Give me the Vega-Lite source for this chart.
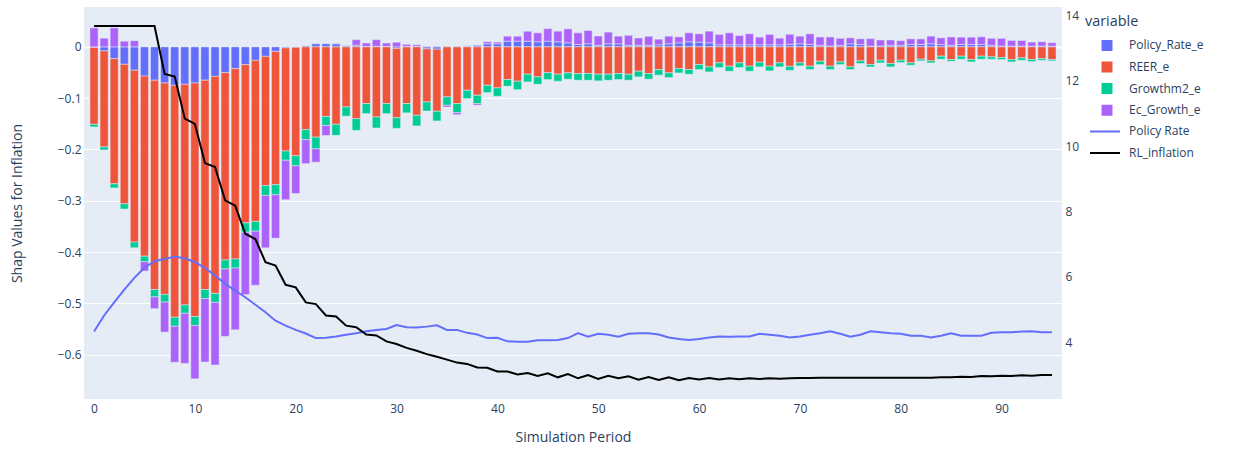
{
  "$schema": "https://vega.github.io/schema/vega-lite/v6.json",
  "width": 978,
  "height": 392,
  "autosize": {"type": "none"},
  "padding": {"left": 84, "top": 7, "right": 173, "bottom": 52},
  "background": "white",
  "config": {
    "view": {"fill": "#E5ECF6", "stroke": null},
    "font": "Open Sans",
    "axis": {"labelFont": "Open Sans", "titleFont": "Open Sans", "labelColor": "#2a3f5f", "titleColor": "#2a3f5f", "labelFontSize": 12, "titleFontSize": 14, "titleFontWeight": "normal", "domain": false, "ticks": false, "gridColor": "#ffffff", "gridWidth": 1, "gridOpacity": 1},
    "legend": {"labelFont": "Open Sans", "labelFontSize": 12, "labelColor": "#2a3f5f", "titleFont": "Open Sans", "titleFontSize": 14.4, "titleFontWeight": "normal", "titleColor": "#2a3f5f"}
  },
  "data": {"values": [
    {"period":0,"Policy_Rate_e":-0.001,"REER_e":-0.150,"Growthm2_e":-0.005,"Ec_Growth_e":0.037,"Policy Rate":4.33,"RL_inflation":13.67},
    {"period":1,"Policy_Rate_e":-0.008,"REER_e":-0.187,"Growthm2_e":-0.006,"Ec_Growth_e":0.017,"Policy Rate":4.82,"RL_inflation":13.67},
    {"period":2,"Policy_Rate_e":-0.023,"REER_e":-0.244,"Growthm2_e":-0.008,"Ec_Growth_e":0.037,"Policy Rate":5.22,"RL_inflation":13.67},
    {"period":3,"Policy_Rate_e":-0.034,"REER_e":-0.272,"Growthm2_e":-0.010,"Ec_Growth_e":0.011,"Policy Rate":5.61,"RL_inflation":13.67},
    {"period":4,"Policy_Rate_e":-0.0455,"REER_e":-0.335,"Growthm2_e":-0.011,"Ec_Growth_e":0.012,"Policy Rate":5.97,"RL_inflation":13.67},
    {"period":5,"Policy_Rate_e":-0.057,"REER_e":-0.351,"Growthm2_e":-0.011,"Ec_Growth_e":-0.018,"Policy Rate":6.28,"RL_inflation":13.67},
    {"period":6,"Policy_Rate_e":-0.065,"REER_e":-0.408,"Growthm2_e":-0.0144,"Ec_Growth_e":-0.0228,"Policy Rate":6.48,"RL_inflation":13.67},
    {"period":7,"Policy_Rate_e":-0.0705,"REER_e":-0.412,"Growthm2_e":-0.015,"Ec_Growth_e":-0.0585,"Policy Rate":6.55,"RL_inflation":12.21},
    {"period":8,"Policy_Rate_e":-0.075,"REER_e":-0.452,"Growthm2_e":-0.0176,"Ec_Growth_e":-0.0703,"Policy Rate":6.62,"RL_inflation":12.13},
    {"period":9,"Policy_Rate_e":-0.073,"REER_e":-0.430,"Growthm2_e":-0.0164,"Ec_Growth_e":-0.0976,"Policy Rate":6.57,"RL_inflation":10.84},
    {"period":10,"Policy_Rate_e":-0.0705,"REER_e":-0.455,"Growthm2_e":-0.0176,"Ec_Growth_e":-0.104,"Policy Rate":6.45,"RL_inflation":10.68},
    {"period":11,"Policy_Rate_e":-0.065,"REER_e":-0.408,"Growthm2_e":-0.0176,"Ec_Growth_e":-0.1236,"Policy Rate":6.28,"RL_inflation":9.48},
    {"period":12,"Policy_Rate_e":-0.0575,"REER_e":-0.423,"Growthm2_e":-0.0176,"Ec_Growth_e":-0.122,"Policy Rate":6.04,"RL_inflation":9.36},
    {"period":13,"Policy_Rate_e":-0.0503,"REER_e":-0.365,"Growthm2_e":-0.0176,"Ec_Growth_e":-0.1315,"Policy Rate":5.79,"RL_inflation":8.34},
    {"period":14,"Policy_Rate_e":-0.0425,"REER_e":-0.371,"Growthm2_e":-0.0176,"Ec_Growth_e":-0.1204,"Policy Rate":5.58,"RL_inflation":8.18},
    {"period":15,"Policy_Rate_e":-0.0347,"REER_e":-0.3083,"Growthm2_e":-0.0183,"Ec_Growth_e":-0.1216,"Policy Rate":5.38,"RL_inflation":7.32},
    {"period":16,"Policy_Rate_e":-0.0263,"REER_e":-0.314,"Growthm2_e":-0.019,"Ec_Growth_e":-0.1054,"Policy Rate":5.15,"RL_inflation":7.16},
    {"period":17,"Policy_Rate_e":-0.0185,"REER_e":-0.2517,"Growthm2_e":-0.0195,"Ec_Growth_e":-0.102,"Policy Rate":4.92,"RL_inflation":6.45},
    {"period":18,"Policy_Rate_e":-0.0088,"REER_e":-0.260,"Growthm2_e":-0.0195,"Ec_Growth_e":-0.0846,"Policy Rate":4.66,"RL_inflation":6.35},
    {"period":19,"Policy_Rate_e":-0.002,"REER_e":-0.201,"Growthm2_e":-0.018,"Ec_Growth_e":-0.077,"Policy Rate":4.51,"RL_inflation":5.76},
    {"period":20,"Policy_Rate_e":-0.001,"REER_e":-0.2113,"Growthm2_e":-0.0195,"Ec_Growth_e":-0.054,"Policy Rate":4.38,"RL_inflation":5.68},
    {"period":21,"Policy_Rate_e":0.002,"REER_e":-0.1613,"Growthm2_e":-0.0195,"Ec_Growth_e":-0.0468,"Policy Rate":4.27,"RL_inflation":5.22},
    {"period":22,"Policy_Rate_e":0.006,"REER_e":-0.176,"Growthm2_e":-0.0228,"Ec_Growth_e":-0.026,"Policy Rate":4.13,"RL_inflation":5.17},
    {"period":23,"Policy_Rate_e":0.006,"REER_e":-0.1356,"Growthm2_e":-0.0176,"Ec_Growth_e":-0.0195,"Policy Rate":4.14,"RL_inflation":4.82},
    {"period":24,"Policy_Rate_e":0.006,"REER_e":-0.151,"Growthm2_e":-0.0215,"Ec_Growth_e":0.001,"Policy Rate":4.18,"RL_inflation":4.79},
    {"period":25,"Policy_Rate_e":0.002,"REER_e":-0.117,"Growthm2_e":-0.018,"Ec_Growth_e":0.001,"Policy Rate":4.23,"RL_inflation":4.51},
    {"period":26,"Policy_Rate_e":0.003,"REER_e":-0.140,"Growthm2_e":-0.0228,"Ec_Growth_e":0.011,"Policy Rate":4.28,"RL_inflation":4.46},
    {"period":27,"Policy_Rate_e":0.001,"REER_e":-0.1106,"Growthm2_e":-0.0195,"Ec_Growth_e":0.0065,"Policy Rate":4.34,"RL_inflation":4.24},
    {"period":28,"Policy_Rate_e":0.001,"REER_e":-0.1366,"Growthm2_e":-0.0215,"Ec_Growth_e":0.013,"Policy Rate":4.38,"RL_inflation":4.21},
    {"period":29,"Policy_Rate_e":0.001,"REER_e":-0.1106,"Growthm2_e":-0.0195,"Ec_Growth_e":0.0065,"Policy Rate":4.41,"RL_inflation":4.03},
    {"period":30,"Policy_Rate_e":-0.003,"REER_e":-0.135,"Growthm2_e":-0.0208,"Ec_Growth_e":0.009,"Policy Rate":4.53,"RL_inflation":3.95},
    {"period":31,"Policy_Rate_e":0.001,"REER_e":-0.1106,"Growthm2_e":-0.018,"Ec_Growth_e":0.004,"Policy Rate":4.46,"RL_inflation":3.83},
    {"period":32,"Policy_Rate_e":0.001,"REER_e":-0.1333,"Growthm2_e":-0.0208,"Ec_Growth_e":0.003,"Policy Rate":4.45,"RL_inflation":3.74},
    {"period":33,"Policy_Rate_e":-0.004,"REER_e":-0.1034,"Growthm2_e":-0.0176,"Ec_Growth_e":0.001,"Policy Rate":4.48,"RL_inflation":3.64},
    {"period":34,"Policy_Rate_e":-0.0045,"REER_e":-0.121,"Growthm2_e":-0.0189,"Ec_Growth_e":0.001,"Policy Rate":4.52,"RL_inflation":3.56},
    {"period":35,"Policy_Rate_e":0.001,"REER_e":-0.0976,"Growthm2_e":-0.0163,"Ec_Growth_e":-0.0033,"Policy Rate":4.38,"RL_inflation":3.47},
    {"period":36,"Policy_Rate_e":0.001,"REER_e":-0.1106,"Growthm2_e":-0.0176,"Ec_Growth_e":-0.004,"Policy Rate":4.38,"RL_inflation":3.38},
    {"period":37,"Policy_Rate_e":0.001,"REER_e":-0.0846,"Growthm2_e":-0.0163,"Ec_Growth_e":0.001,"Policy Rate":4.29,"RL_inflation":3.34},
    {"period":38,"Policy_Rate_e":0.003,"REER_e":-0.0943,"Growthm2_e":-0.0163,"Ec_Growth_e":-0.003,"Policy Rate":4.24,"RL_inflation":3.23},
    {"period":39,"Policy_Rate_e":0.006,"REER_e":-0.0748,"Growthm2_e":-0.0143,"Ec_Growth_e":0.004,"Policy Rate":4.13,"RL_inflation":3.22},
    {"period":40,"Policy_Rate_e":0.006,"REER_e":-0.080,"Growthm2_e":-0.0163,"Ec_Growth_e":0.0033,"Policy Rate":4.14,"RL_inflation":3.11},
    {"period":41,"Policy_Rate_e":0.011,"REER_e":-0.0637,"Growthm2_e":-0.013,"Ec_Growth_e":0.0098,"Policy Rate":4.03,"RL_inflation":3.11},
    {"period":42,"Policy_Rate_e":0.011,"REER_e":-0.067,"Growthm2_e":-0.0163,"Ec_Growth_e":0.0098,"Policy Rate":4.02,"RL_inflation":3.02},
    {"period":43,"Policy_Rate_e":0.011,"REER_e":-0.0533,"Growthm2_e":-0.015,"Ec_Growth_e":0.0195,"Policy Rate":4.02,"RL_inflation":3.06},
    {"period":44,"Policy_Rate_e":0.0098,"REER_e":-0.0585,"Growthm2_e":-0.0143,"Ec_Growth_e":0.0176,"Policy Rate":4.06,"RL_inflation":2.97},
    {"period":45,"Policy_Rate_e":0.011,"REER_e":-0.0503,"Growthm2_e":-0.0135,"Ec_Growth_e":0.0245,"Policy Rate":4.06,"RL_inflation":3.05},
    {"period":46,"Policy_Rate_e":0.0098,"REER_e":-0.0533,"Growthm2_e":-0.0137,"Ec_Growth_e":0.0208,"Policy Rate":4.07,"RL_inflation":2.93},
    {"period":47,"Policy_Rate_e":0.0078,"REER_e":-0.0507,"Growthm2_e":-0.0124,"Ec_Growth_e":0.0273,"Policy Rate":4.13,"RL_inflation":3.03},
    {"period":48,"Policy_Rate_e":0.0046,"REER_e":-0.052,"Growthm2_e":-0.013,"Ec_Growth_e":0.0228,"Policy Rate":4.28,"RL_inflation":2.90},
    {"period":49,"Policy_Rate_e":0.0059,"REER_e":-0.052,"Growthm2_e":-0.013,"Ec_Growth_e":0.026,"Policy Rate":4.17,"RL_inflation":3.00},
    {"period":50,"Policy_Rate_e":0.003,"REER_e":-0.0533,"Growthm2_e":-0.013,"Ec_Growth_e":0.0182,"Policy Rate":4.26,"RL_inflation":2.88},
    {"period":51,"Policy_Rate_e":0.0059,"REER_e":-0.0533,"Growthm2_e":-0.0117,"Ec_Growth_e":0.0228,"Policy Rate":4.23,"RL_inflation":2.98},
    {"period":52,"Policy_Rate_e":0.0059,"REER_e":-0.052,"Growthm2_e":-0.0117,"Ec_Growth_e":0.015,"Policy Rate":4.17,"RL_inflation":2.90},
    {"period":53,"Policy_Rate_e":0.003,"REER_e":-0.0533,"Growthm2_e":-0.0117,"Ec_Growth_e":0.0195,"Policy Rate":4.26,"RL_inflation":2.96},
    {"period":54,"Policy_Rate_e":0.003,"REER_e":-0.0475,"Growthm2_e":-0.011,"Ec_Growth_e":0.0143,"Policy Rate":4.28,"RL_inflation":2.86},
    {"period":55,"Policy_Rate_e":0.003,"REER_e":-0.052,"Growthm2_e":-0.011,"Ec_Growth_e":0.0176,"Policy Rate":4.28,"RL_inflation":2.94},
    {"period":56,"Policy_Rate_e":0.004,"REER_e":-0.0442,"Growthm2_e":-0.011,"Ec_Growth_e":0.011,"Policy Rate":4.24,"RL_inflation":2.85},
    {"period":57,"Policy_Rate_e":0.0059,"REER_e":-0.0507,"Growthm2_e":-0.0091,"Ec_Growth_e":0.015,"Policy Rate":4.15,"RL_inflation":2.93},
    {"period":58,"Policy_Rate_e":0.0078,"REER_e":-0.0423,"Growthm2_e":-0.0085,"Ec_Growth_e":0.0117,"Policy Rate":4.10,"RL_inflation":2.84},
    {"period":59,"Policy_Rate_e":0.0098,"REER_e":-0.0442,"Growthm2_e":-0.0091,"Ec_Growth_e":0.0176,"Policy Rate":4.07,"RL_inflation":2.91},
    {"period":60,"Policy_Rate_e":0.0091,"REER_e":-0.0345,"Growthm2_e":-0.0098,"Ec_Growth_e":0.0163,"Policy Rate":4.10,"RL_inflation":2.86},
    {"period":61,"Policy_Rate_e":0.0078,"REER_e":-0.039,"Growthm2_e":-0.0098,"Ec_Growth_e":0.0228,"Policy Rate":4.15,"RL_inflation":2.91},
    {"period":62,"Policy_Rate_e":0.004,"REER_e":-0.0312,"Growthm2_e":-0.0091,"Ec_Growth_e":0.0202,"Policy Rate":4.18,"RL_inflation":2.86},
    {"period":63,"Policy_Rate_e":0.004,"REER_e":-0.0377,"Growthm2_e":-0.0098,"Ec_Growth_e":0.0234,"Policy Rate":4.17,"RL_inflation":2.90},
    {"period":64,"Policy_Rate_e":0.004,"REER_e":-0.0312,"Growthm2_e":-0.0091,"Ec_Growth_e":0.0182,"Policy Rate":4.18,"RL_inflation":2.87},
    {"period":65,"Policy_Rate_e":0.004,"REER_e":-0.0377,"Growthm2_e":-0.0098,"Ec_Growth_e":0.0215,"Policy Rate":4.18,"RL_inflation":2.90},
    {"period":66,"Policy_Rate_e":0.004,"REER_e":-0.0299,"Growthm2_e":-0.0091,"Ec_Growth_e":0.015,"Policy Rate":4.26,"RL_inflation":2.88},
    {"period":67,"Policy_Rate_e":0.004,"REER_e":-0.0377,"Growthm2_e":-0.0091,"Ec_Growth_e":0.0202,"Policy Rate":4.23,"RL_inflation":2.90},
    {"period":68,"Policy_Rate_e":0.004,"REER_e":-0.0312,"Growthm2_e":-0.0078,"Ec_Growth_e":0.013,"Policy Rate":4.20,"RL_inflation":2.89},
    {"period":69,"Policy_Rate_e":0.005,"REER_e":-0.038,"Growthm2_e":-0.0078,"Ec_Growth_e":0.0195,"Policy Rate":4.15,"RL_inflation":2.90},
    {"period":70,"Policy_Rate_e":0.0059,"REER_e":-0.0312,"Growthm2_e":-0.0059,"Ec_Growth_e":0.015,"Policy Rate":4.18,"RL_inflation":2.91},
    {"period":71,"Policy_Rate_e":0.0046,"REER_e":-0.0377,"Growthm2_e":-0.0065,"Ec_Growth_e":0.0208,"Policy Rate":4.23,"RL_inflation":2.91},
    {"period":72,"Policy_Rate_e":0.003,"REER_e":-0.028,"Growthm2_e":-0.0065,"Ec_Growth_e":0.0163,"Policy Rate":4.28,"RL_inflation":2.92},
    {"period":73,"Policy_Rate_e":0.0017,"REER_e":-0.0377,"Growthm2_e":-0.0065,"Ec_Growth_e":0.0176,"Policy Rate":4.34,"RL_inflation":2.92},
    {"period":74,"Policy_Rate_e":0.003,"REER_e":-0.0293,"Growthm2_e":-0.0052,"Ec_Growth_e":0.0137,"Policy Rate":4.26,"RL_inflation":2.92},
    {"period":75,"Policy_Rate_e":0.0059,"REER_e":-0.039,"Growthm2_e":-0.0052,"Ec_Growth_e":0.0117,"Policy Rate":4.17,"RL_inflation":2.92},
    {"period":76,"Policy_Rate_e":0.0046,"REER_e":-0.0273,"Growthm2_e":-0.0052,"Ec_Growth_e":0.011,"Policy Rate":4.23,"RL_inflation":2.92},
    {"period":77,"Policy_Rate_e":0.0017,"REER_e":-0.0345,"Growthm2_e":-0.0046,"Ec_Growth_e":0.0143,"Policy Rate":4.34,"RL_inflation":2.92},
    {"period":78,"Policy_Rate_e":0.0017,"REER_e":-0.026,"Growthm2_e":-0.0052,"Ec_Growth_e":0.0117,"Policy Rate":4.31,"RL_inflation":2.92},
    {"period":79,"Policy_Rate_e":0.003,"REER_e":-0.0325,"Growthm2_e":-0.0065,"Ec_Growth_e":0.0104,"Policy Rate":4.28,"RL_inflation":2.92},
    {"period":80,"Policy_Rate_e":0.003,"REER_e":-0.026,"Growthm2_e":-0.0046,"Ec_Growth_e":0.0091,"Policy Rate":4.26,"RL_inflation":2.92},
    {"period":81,"Policy_Rate_e":0.0046,"REER_e":-0.0312,"Growthm2_e":-0.0046,"Ec_Growth_e":0.011,"Policy Rate":4.20,"RL_inflation":2.92},
    {"period":82,"Policy_Rate_e":0.0046,"REER_e":-0.024,"Growthm2_e":-0.0033,"Ec_Growth_e":0.011,"Policy Rate":4.20,"RL_inflation":2.92},
    {"period":83,"Policy_Rate_e":0.0059,"REER_e":-0.0273,"Growthm2_e":-0.004,"Ec_Growth_e":0.015,"Policy Rate":4.15,"RL_inflation":2.92},
    {"period":84,"Policy_Rate_e":0.0046,"REER_e":-0.0182,"Growthm2_e":-0.0059,"Ec_Growth_e":0.013,"Policy Rate":4.20,"RL_inflation":2.93},
    {"period":85,"Policy_Rate_e":0.003,"REER_e":-0.0247,"Growthm2_e":-0.0033,"Ec_Growth_e":0.0163,"Policy Rate":4.28,"RL_inflation":2.93},
    {"period":86,"Policy_Rate_e":0.0046,"REER_e":-0.0182,"Growthm2_e":-0.0059,"Ec_Growth_e":0.0143,"Policy Rate":4.20,"RL_inflation":2.95},
    {"period":87,"Policy_Rate_e":0.0046,"REER_e":-0.0247,"Growthm2_e":-0.0046,"Ec_Growth_e":0.0143,"Policy Rate":4.20,"RL_inflation":2.94},
    {"period":88,"Policy_Rate_e":0.0046,"REER_e":-0.0182,"Growthm2_e":-0.0059,"Ec_Growth_e":0.015,"Policy Rate":4.20,"RL_inflation":2.97},
    {"period":89,"Policy_Rate_e":0.003,"REER_e":-0.0195,"Growthm2_e":-0.0046,"Ec_Growth_e":0.0137,"Policy Rate":4.29,"RL_inflation":2.96},
    {"period":90,"Policy_Rate_e":0.0015,"REER_e":-0.0208,"Growthm2_e":-0.004,"Ec_Growth_e":0.015,"Policy Rate":4.31,"RL_inflation":2.98},
    {"period":91,"Policy_Rate_e":0.0015,"REER_e":-0.0247,"Growthm2_e":-0.0046,"Ec_Growth_e":0.011,"Policy Rate":4.31,"RL_inflation":2.97},
    {"period":92,"Policy_Rate_e":0.0015,"REER_e":-0.0215,"Growthm2_e":-0.0046,"Ec_Growth_e":0.011,"Policy Rate":4.33,"RL_inflation":2.99},
    {"period":93,"Policy_Rate_e":0.0015,"REER_e":-0.0247,"Growthm2_e":-0.004,"Ec_Growth_e":0.0078,"Policy Rate":4.34,"RL_inflation":2.98},
    {"period":94,"Policy_Rate_e":0.0015,"REER_e":-0.0228,"Growthm2_e":-0.0033,"Ec_Growth_e":0.0085,"Policy Rate":4.31,"RL_inflation":3.00},
    {"period":95,"Policy_Rate_e":0.0015,"REER_e":-0.0247,"Growthm2_e":-0.0026,"Ec_Growth_e":0.0065,"Policy Rate":4.31,"RL_inflation":3.00}
  ]},
  "transform": [
    {"fold": ["Policy_Rate_e", "REER_e", "Growthm2_e", "Ec_Growth_e", "Policy Rate", "RL_inflation"], "as": ["variable", "value"]}
  ],
  "encoding": {
    "x": {
      "field": "period", "type": "quantitative",
      "scale": {"domain": [-0.5, 95.5], "nice": false, "zero": false},
      "axis": {"values": [0, 10, 20, 30, 40, 50, 60, 70, 80, 90], "format": "d", "grid": false, "title": "Simulation Period", "labelPadding": 4, "titlePadding": 16}
    }
  },
  "layer": [
    {
      "transform": [
        {"filter": {"field": "variable", "oneOf": ["Policy_Rate_e", "REER_e", "Growthm2_e", "Ec_Growth_e"]}},
        {"calculate": "indexof(['Policy_Rate_e', 'REER_e', 'Growthm2_e', 'Ec_Growth_e'], datum.variable)", "as": "stackOrder"}
      ],
      "mark": {"type": "bar", "size": 8.15, "stroke": "#E5ECF6", "strokeWidth": 0.5},
      "encoding": {
        "y": {
          "field": "value", "type": "quantitative", "stack": "zero",
          "scale": {"domain": [-0.6864, 0.0777], "nice": false, "zero": false},
          "axis": {"orient": "left", "values": [-0.6, -0.5, -0.4, -0.3, -0.2, -0.1, 0], "format": ".1~f", "title": "Shap Values for Inflation", "labelPadding": 3, "titlePadding": 33,
                   "gridWidth": {"condition": {"test": "datum.value === 0", "value": 2}, "value": 1}}
        },
        "color": {
          "field": "variable", "type": "nominal",
          "scale": {"domain": ["Policy_Rate_e", "REER_e", "Growthm2_e", "Ec_Growth_e"],
                    "range": ["#636efa", "#EF553B", "#00cc96", "#ab63fa"]},
          "legend": {
            "orient": "none", "legendX": 1001, "legendY": 8,
            "title": "variable", "titlePadding": 9,
            "labelOffset": 16,
            "symbolType": "square", "symbolSize": 120, "symbolOffset": 16, "symbolStrokeWidth": 0,
            "clipHeight": 14, "rowPadding": 7.6
          }
        },
        "order": {"field": "stackOrder", "type": "quantitative"}
      }
    },
    {
      "transform": [
        {"filter": {"field": "variable", "oneOf": ["Policy Rate", "RL_inflation"]}}
      ],
      "mark": {"type": "line", "strokeWidth": 2},
      "encoding": {
        "y": {
          "field": "value", "type": "quantitative",
          "scale": {"domain": [2.267, 14.254], "nice": false, "zero": false},
          "axis": {"orient": "right", "values": [4, 6, 8, 10, 12, 14], "title": null, "labelPadding": 3}
        },
        "stroke": {
          "field": "variable", "type": "nominal",
          "scale": {"domain": ["Policy Rate", "RL_inflation"], "range": ["#636efa", "#000000"]},
          "legend": {
            "orient": "none", "legendX": 1001, "legendY": 117.4,
            "title": null,
            "labelOffset": 8,
            "symbolType": "stroke", "symbolSize": 900, "symbolOffset": 4, "symbolStrokeWidth": 2,
            "clipHeight": 14, "rowPadding": 7.6
          }
        }
      }
    }
  ],
  "resolve": {"scale": {"y": "independent"}}
}
